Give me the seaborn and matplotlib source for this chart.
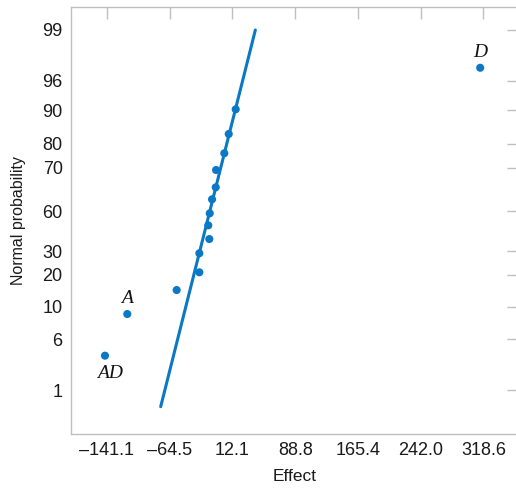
import matplotlib
matplotlib.use("Agg")
import matplotlib.pyplot as plt
import seaborn as sns
import pandas as pd

# effects (x) and normal-score positions (y)
effects = [-143.5, -116.3, -56.0, -28.3, -28.3, -16.1, -17.4, -15.6,
           -12.8, -8.3, -7.9, 2.2, 7.6, 16.1, 314.6]
scores = [-1.882, -1.344, -1.034, -0.805, -0.559, -0.375, -0.198, -0.043,
          0.138, 0.293, 0.517, 0.733, 0.982, 1.301, 1.838]

# labelled effects
label_names = ["AD", "A", "D"]
label_idx = [0, 1, 14]
label_offsets = [(4, -13), (0, 11), (0, 11)]

# fitted reference line
line_x = [-75.5, 40.1]
line_y = [-2.541, 2.326]

x_ticks = [-141.1, -64.5, 12.1, 88.8, 165.4, 242.0, 318.6]
y_tick_pos = [2.326, 1.671, 1.288, 0.853, 0.547, -0.017, -0.530, -0.836,
              -1.253, -1.667, -2.326]
y_tick_labels = ["99", "96", "90", "80", "70", "60", "30", "20", "10", "6", "1"]

blue = "#0a78c4"
grey = "#bfbfbf"

sns.set_style("white")
plt.rcParams["font.family"] = ["Liberation Sans", "DejaVu Sans"]

fig = plt.figure(figsize=(5.16, 4.90), dpi=100)
ax = fig.add_axes([71 / 516, 56 / 490, 448 / 516, 427 / 490])

pts = pd.DataFrame({"Effect": effects, "Score": scores})
sns.lineplot(x=line_x, y=line_y, ax=ax, color=blue, linewidth=2.2)
sns.scatterplot(data=pts, x="Effect", y="Score", ax=ax, color=blue,
                s=34, edgecolor="none", zorder=3)

for name, i, off in zip(label_names, label_idx, label_offsets):
    ax.annotate(name, (effects[i], scores[i]), textcoords="offset points",
                xytext=off, ha="center", va="center", fontsize=14,
                family=["Liberation Serif", "DejaVu Serif"], style="italic",
                color="#111111")

ax.set_xlim(-185.0, 362.0)
ax.set_ylim(-2.894, 2.623)
ax.set_xticks(x_ticks)
ax.set_xticklabels([f"{v:.1f}".replace("-", "\u2013") for v in x_ticks])
ax.set_yticks(y_tick_pos)
ax.set_yticklabels(y_tick_labels)

ax.tick_params(axis="both", direction="in", length=8.5, width=1.0, color=grey,
               labelsize=13, labelcolor="#1a1a1a", pad=6,
               top=True, right=True)
for sp in ax.spines.values():
    sp.set_color(grey)
    sp.set_linewidth(1.0)

ax.set_xlabel("Effect", fontsize=12.5, color="#1a1a1a", labelpad=7)
ax.set_ylabel("Normal probability", fontsize=11.5, color="#1a1a1a", labelpad=12)

fig.savefig("out.png", dpi=100)
